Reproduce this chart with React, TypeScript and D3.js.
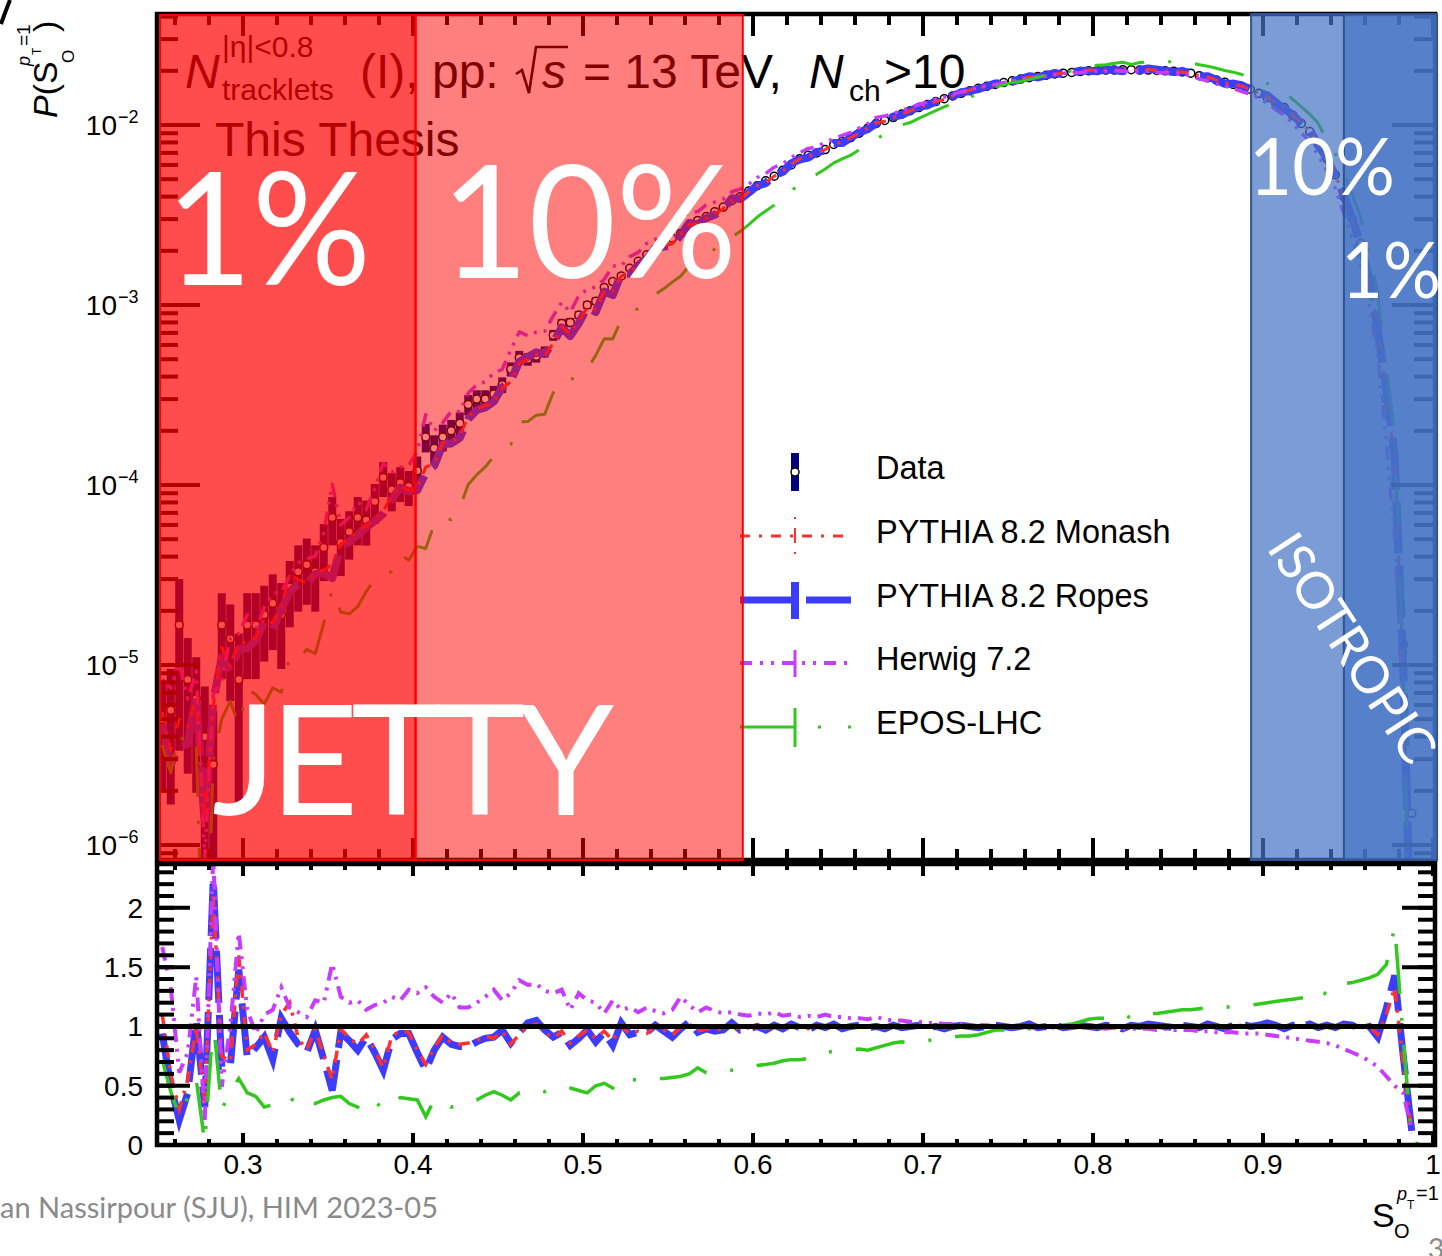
import React from 'react';
import * as d3 from 'd3';

// histogram binning of S_O^{pT=1}
const binWidth = 0.005;
const nBins = 150;
const sCenters = d3.range(nBins).map((i) => 0.25 + binWidth * (i + 0.5));

// measured distribution P(S_O)
const dataP = [
  5.0e-6, 5.6e-6, 1.67e-5, 8.3e-6, 6.5e-6, 4.0e-6, 2.8e-6, 1.67e-5, 1.4e-5, 8.3e-6,
  1.67e-5, 1.67e-5, 1.9e-5, 2.2e-5, 1.9e-5, 2.7e-5, 3.3e-5, 3.6e-5, 3.3e-5, 4.5e-5,
  6.6e-5, 4.8e-5, 5.5e-5, 6.6e-5, 6.4e-5, 8.1e-5, 1.1e-4, 9.4e-5, 1.03e-4, 9.8e-5,
  1.2e-4, 1.85e-4, 1.6e-4, 1.85e-4, 2.0e-4, 2.2e-4, 2.8e-4, 3.0e-4, 3.0e-4, 3.2e-4,
  3.6e-4, 4.4e-4, 5.1e-4, 5.0e-4, 5.2e-4, 5.5e-4, 6.8e-4, 7.9e-4, 8.0e-4, 8.8e-4,
  1.0e-3, 1.05e-3, 1.25e-3, 1.35e-3, 1.45e-3, 1.6e-3, 1.75e-3, 1.9e-3, 2.05e-3, 2.2e-3,
  2.35e-3, 2.5e-3, 2.75e-3, 2.95e-3, 3.1e-3, 3.3e-3, 3.5e-3, 3.8e-3, 4.0e-3, 4.3e-3,
  4.6e-3, 4.9e-3, 5.2e-3, 5.6e-3, 6.0e-3, 6.5e-3, 6.8e-3, 7.0e-3, 7.3e-3, 7.8e-3,
  8.1e-3, 8.5e-3, 9.0e-3, 9.6e-3, 1.02e-2, 1.06e-2, 1.1e-2, 1.15e-2, 1.2e-2, 1.25e-2,
  1.3e-2, 1.35e-2, 1.4e-2, 1.45e-2, 1.5e-2, 1.55e-2, 1.6e-2, 1.64e-2, 1.68e-2, 1.72e-2,
  1.76e-2, 1.8e-2, 1.83e-2, 1.86e-2, 1.89e-2, 1.92e-2, 1.94e-2, 1.96e-2, 1.98e-2, 2.0e-2,
  2.01e-2, 2.02e-2, 2.02e-2, 2.03e-2, 2.03e-2, 2.02e-2, 2.02e-2, 2.01e-2, 2.0e-2, 1.99e-2,
  1.97e-2, 1.94e-2, 1.88e-2, 1.83e-2, 1.78e-2, 1.73e-2, 1.68e-2, 1.63e-2, 1.58e-2, 1.5e-2,
  1.42e-2, 1.32e-2, 1.25e-2, 1.13e-2, 1.02e-2, 9.2e-3, 7.8e-3, 6.5e-3, 5.3e-3, 4.0e-3,
  3.0e-3, 2.2e-3, 1.4e-3, 8.0e-4, 3.0e-4, 1.0e-4, 1.3e-5, 1.5e-6, 0, 0,
];

// relative statistical uncertainty of the data (bins beyond are negligible)
const dataRelErr = [
  0.6, 0.7, 0.8, 0.7, 0.7, 0.9, 1.0, 0.5, 0.55, 0.8,
  0.5, 0.5, 0.45, 0.45, 0.5, 0.4, 0.4, 0.4, 0.4, 0.35,
  0.3, 0.35, 0.3, 0.3, 0.28, 0.25, 0.22, 0.24, 0.22, 0.22,
  0.2, 0.18, 0.18, 0.17, 0.15, 0.15, 0.13, 0.12, 0.12, 0.11,
  0.1, 0.09, 0.09, 0.08, 0.08, 0.07, 0.07, 0.06, 0.06, 0.05,
  0.05, 0.05, 0.04, 0.04, 0.04, 0.03, 0.03, 0.03, 0.03, 0.02,
];

// model / data ratios
const ratioRopes = [
  0.94, 0.5, 0.21, 0.44, 1.05, 0.32, 2.24, 0.66, 0.66, 1.48,
  0.74, 0.82, 0.91, 0.72, 1.07, 0.95, 0.85, 0.78, 0.97, 0.72,
  0.46, 0.95, 0.88, 0.8, 0.91, 0.78, 0.63, 0.89, 0.94, 0.94,
  0.78, 0.63, 0.8, 0.91, 0.85, 0.83, 0.83, 0.87, 0.9, 0.91,
  0.97, 0.86, 0.95, 1.03, 1.05, 0.97, 0.91, 0.95, 0.84, 0.9,
  0.97, 0.87, 0.95, 0.84, 1.03, 0.93, 0.95, 0.95, 1.01, 0.96,
  0.91, 0.98, 1.04, 0.95, 0.98, 0.96, 0.97, 1.03, 0.97, 0.98,
  1.0, 0.97, 1.01, 0.98, 1.02, 0.99, 0.97, 1.01, 0.99, 1.02,
  0.98, 1.0, 1.01, 0.99, 1.0, 0.98, 1.01, 0.99, 1.0, 1.01,
  0.99, 1.0, 0.98, 1.0, 1.01, 1.0, 0.99, 1.0, 1.01, 1.0,
  0.99, 1.0, 1.02, 0.99, 1.0, 1.01, 0.99, 1.0, 1.01, 1.0,
  0.99, 1.01, 1.0, 0.98, 1.01, 1.0, 1.02, 1.01, 1.0, 0.99,
  1.01, 1.0, 0.99, 1.02, 1.0, 0.98, 1.01, 1.02, 1.0, 1.01,
  1.03, 1.01, 0.98, 1.01, 1.0, 1.02, 0.99, 1.01, 0.99, 1.02,
  1.01, 0.98, 1.0, 0.91, 1.15, 1.43, 0.75, 0.12, null, null,
];

const ratioMonash = [
  1.1, 0.6, 0.3, 0.55, 1.0, 0.35, 2.1, 0.75, 0.7, 1.6,
  0.8, 0.85, 0.95, 0.78, 1.1, 1.2, 0.9, 0.8, 0.98, 0.75,
  0.55, 0.98, 0.9, 0.85, 0.93, 0.8, 0.65, 0.92, 0.96, 0.95,
  0.8, 0.68, 0.82, 0.93, 0.86, 0.85, 0.86, 0.88, 0.92, 0.9,
  0.96, 0.85, 0.93, 1.0, 1.02, 0.95, 0.9, 0.96, 0.86, 0.92,
  0.97, 0.9, 0.96, 0.88, 1.0, 0.94, 0.96, 0.94, 1.0, 0.97,
  0.93, 0.99, 1.02, 0.96, 0.98, 0.97, 0.98, 1.01, 0.97, 0.99,
  1.0, 0.98, 1.0, 0.99, 1.01, 1.0, 0.98, 1.0, 1.0, 1.01,
  0.99, 1.0, 1.0, 1.0, 1.01, 0.99, 1.0, 1.0, 1.0, 1.0,
  1.0, 1.0, 0.99, 1.0, 1.0, 1.01, 1.0, 1.0, 1.0, 1.0,
  1.0, 1.0, 1.01, 1.0, 1.0, 1.0, 1.0, 1.0, 1.0, 1.01,
  1.0, 1.0, 1.0, 0.99, 1.0, 1.0, 1.01, 1.0, 1.0, 1.0,
  1.0, 1.0, 1.0, 1.01, 1.0, 0.99, 1.0, 1.01, 1.0, 1.0,
  1.01, 1.0, 0.99, 1.0, 1.0, 1.01, 1.0, 1.0, 1.0, 1.01,
  1.0, 0.99, 1.0, 0.93, 1.1, 1.33, 0.69, 0.1, null, null,
];

const ratioHerwig = [
  1.67, 1.33, 0.61, 0.78, 1.42, 0.21, 2.45, 0.49, 1.0, 1.79,
  1.14, 0.94, 1.1, 1.14, 1.33, 1.16, 1.12, 1.08, 1.22, 1.2,
  1.53, 1.25, 1.2, 1.22, 1.14, 1.18, 1.2, 1.25, 1.22, 1.31,
  1.28, 1.33, 1.25, 1.2, 1.28, 1.16, 1.16, 1.2, 1.25, 1.31,
  1.22, 1.28, 1.39, 1.35, 1.36, 1.3, 1.28, 1.31, 1.14, 1.28,
  1.22, 1.2, 1.11, 1.22, 1.14, 1.16, 1.12, 1.16, 1.13, 1.11,
  1.14, 1.25, 1.18, 1.12, 1.16, 1.13, 1.11, 1.12, 1.1, 1.09,
  1.11, 1.1, 1.12, 1.09, 1.1, 1.08, 1.09, 1.08, 1.1, 1.08,
  1.08, 1.07, 1.07, 1.06, 1.08, 1.06, 1.05, 1.05, 1.04, 1.04,
  1.03, 1.03, 1.02, 1.02, 1.02, 1.01, 1.01, 1.01, 1.0, 1.0,
  0.99, 1.0, 0.99, 1.0, 0.99, 0.99, 1.0, 0.99, 0.99, 0.99,
  0.99, 0.98, 0.99, 0.98, 0.98, 0.98, 0.98, 0.97, 0.98, 0.97,
  0.97, 0.97, 0.96, 0.96, 0.95, 0.95, 0.95, 0.94, 0.94, 0.94,
  0.93, 0.92, 0.91, 0.9, 0.89, 0.88, 0.87, 0.86, 0.84, 0.81,
  0.78, 0.75, 0.71, 0.66, 0.58, 0.5, 0.44, 0.12, null, null,
];

const ratioEpos = [
  0.72, 0.45, 0.25, 0.4, 0.55, 0.02, 1.05, 0.3, 0.45, 0.56,
  0.44, 0.41, 0.32, 0.34, 0.37, 0.41, 0.32, 0.34, 0.35, 0.38,
  0.4, 0.41, 0.35, 0.32, 0.4, 0.37, 0.3, 0.35, 0.4, 0.39,
  0.38, 0.24, 0.38, 0.36, 0.32, 0.34, 0.36, 0.38, 0.42, 0.45,
  0.42, 0.38, 0.44, 0.45, 0.47, 0.45, 0.48, 0.49, 0.48, 0.46,
  0.44, 0.5, 0.52, 0.48, 0.57, 0.55, 0.55, 0.55, 0.56, 0.56,
  0.57, 0.58, 0.6, 0.65, 0.61, 0.62, 0.62, 0.63, 0.64, 0.65,
  0.67, 0.68, 0.69, 0.71, 0.72, 0.72, 0.73, 0.76, 0.78, 0.79,
  0.8, 0.8, 0.81, 0.8, 0.82, 0.84, 0.86, 0.87, 0.86, 0.87,
  0.88, 0.89, 0.9, 0.91, 0.92, 0.92, 0.93, 0.95, 0.97, 0.97,
  0.98, 0.97, 0.98, 0.99, 1.0, 1.0, 1.01, 1.02, 1.04, 1.06,
  1.07, 1.07, 1.09, 1.1, 1.07, 1.1, 1.11, 1.11, 1.12, 1.13,
  1.14, 1.14, 1.15, 1.16, 1.16, 1.16, 1.17, 1.17, 1.18, 1.19,
  1.2, 1.21, 1.22, 1.23, 1.24, 1.25, 1.31, 1.27, 1.32, 1.36,
  1.37, 1.39, 1.41, 1.44, 1.52, 1.84, 0.9, 0.03, 0, 0,
];

const legendLabels = ['Data', 'PYTHIA 8.2 Monash', 'PYTHIA 8.2 Ropes', 'Herwig 7.2', 'EPOS-LHC'];
const xTickValues = [0.3, 0.4, 0.5, 0.6, 0.7, 0.8, 0.9, 1.0];
const xTickLabels = ['0.3', '0.4', '0.5', '0.6', '0.7', '0.8', '0.9', '1'];
const ratioTickValues = [0, 0.5, 1, 1.5, 2];
const ratioTickLabels = ['0', '0.5', '1', '1.5', '2'];
const decadeExponents = [-6, -5, -4, -3, -2];

// shaded event classes (in S_O units)
const jettyBands = [
  { lo: 0.2512, hi: 0.4015, alpha: 0.7 },
  { lo: 0.4015, hi: 0.594, alpha: 0.5 },
];
const isoBands = [
  { lo: 0.893, hi: 0.9476, alpha: 0.7 },
  { lo: 0.9476, hi: 1.0024, alpha: 0.9 },
];

const FONT = '"Liberation Sans", Arial, sans-serif';
const SLIDE = 'Lato, "Open Sans", sans-serif';

const C = {
  data: '#000080',
  monash: '#ff3030',
  ropes: '#3c3cff',
  herwig: '#c83cff',
  epos: '#32c81e',
};

const models = [
  { key: 'ropes', ratio: ratioRopes, color: C.ropes, w: 8, wr: 7, dash: '52,12' },
  { key: 'monash', ratio: ratioMonash, color: C.monash, w: 3, wr: 3.5, dash: '12,8,3,8' },
  { key: 'herwig', ratio: ratioHerwig, color: C.herwig, w: 3.5, wr: 4, dash: '14,7,3,7,3,7' },
  { key: 'epos', ratio: ratioEpos, color: C.epos, w: 3, wr: 3.5, dash: '50,24,3,24' },
];

export default function App() {
  const x = d3.scaleLinear().domain([0.25, 1.0]).range([158, 1433]);
  const y = d3.scaleLog().domain([10 ** -6.0833, 10 ** -1.3833]).range([860, 14]);
  const yr = d3.scaleLinear().domain([0, 2.37]).range([1145, 864]);

  const upperLine = d3
    .line<[number, number | null]>()
    .defined((d) => d[1] != null && (d[1] as number) > 0)
    .x((d) => x(d[0]))
    .y((d) => y(d[1] as number));
  const ratioLine = d3
    .line<[number, number | null]>()
    .defined((d) => d[1] != null)
    .x((d) => x(d[0]))
    .y((d) => yr(d[1] as number));

  const xMinor = d3.range(13, 51).map((k) => k * 0.02);
  const logMinor: number[] = [];
  for (let e = -7; e <= -2; e++) {
    for (let m = 1; m <= 9; m++) {
      const v = m * 10 ** e;
      if (v > 10 ** -6.0833 && v < 10 ** -1.3833) logMinor.push(v);
    }
  }
  const ratioMinor = d3.range(0, 24).map((k) => k * 0.1);

  const tk = { stroke: '#000', strokeWidth: 4 };

  return (
    <svg
      width={1442}
      height={1256}
      style={{ position: 'absolute', left: 0, top: 0, display: 'block', background: '#fff' }}
      fontFamily={FONT}
    >
      <defs>
        <clipPath id="clipUp">
          <rect x={158} y={14} width={1277} height={846} />
        </clipPath>
        <clipPath id="clipLo">
          <rect x={158} y={864} width={1275} height={281} />
        </clipPath>
      </defs>

      {/* ---------- upper panel: data underneath, models on top ---------- */}
      <g clipPath="url(#clipUp)">
        {dataP.map((p, i) =>
          p > 0 && dataRelErr[i] ? (
            <rect
              key={'e' + i}
              x={x(sCenters[i]) - 4}
              width={8}
              y={y(p * (1 + dataRelErr[i]))}
              height={y(Math.max(p * (1 - dataRelErr[i]), 1e-8)) - y(p * (1 + dataRelErr[i]))}
              fill={C.data}
            />
          ) : null
        )}
        {dataP.map((p, i) =>
          p > 0 ? (
            <circle key={'c' + i} cx={x(sCenters[i])} cy={y(p)} r={4} fill="#fff" stroke="#000" strokeWidth={1.5} />
          ) : null
        )}
        {models.map((m) => (
          <path
            key={m.key}
            d={upperLine(sCenters.map((s, i) => [s, m.ratio[i] == null ? null : (m.ratio[i] as number) * dataP[i]]))!}
            fill="none"
            stroke={m.color}
            strokeWidth={m.w}
            strokeDasharray={m.dash}
            strokeLinejoin="round"
          />
        ))}
      </g>

      {/* upper frame & ticks */}
      <rect x={157} y={14} width={1278} height={846} fill="none" stroke="#000" strokeWidth={4.5} />
      {xTickValues.map((v) => (
        <g key={'ux' + v}>
          <line x1={x(v)} x2={x(v)} y1={14} y2={36} {...tk} />
          <line x1={x(v)} x2={x(v)} y1={860} y2={838} {...tk} />
        </g>
      ))}
      {xMinor.map((v, k) => (
        <g key={'uxm' + k}>
          <line x1={x(v)} x2={x(v)} y1={14} y2={25} {...tk} />
          <line x1={x(v)} x2={x(v)} y1={860} y2={849} {...tk} />
        </g>
      ))}
      {decadeExponents.map((e) => (
        <g key={'dy' + e}>
          <line x1={157} x2={200} y1={y(10 ** e)} y2={y(10 ** e)} {...tk} />
          <line x1={1435} x2={1392} y1={y(10 ** e)} y2={y(10 ** e)} {...tk} />
          <text x={117} y={y(10 ** e) + 10} fontSize={28} textAnchor="end">
            10
          </text>
          <text x={118} y={y(10 ** e) - 2} fontSize={18}>
            {'\u2212' + Math.abs(e)}
          </text>
        </g>
      ))}
      {logMinor.map((v, k) => (
        <g key={'lm' + k}>
          <line x1={157} x2={178} y1={y(v)} y2={y(v)} {...tk} />
          <line x1={1435} x2={1414} y1={y(v)} y2={y(v)} {...tk} />
        </g>
      ))}

      {/* header text */}
      <g fill="#000">
        <text x={185} y={88} fontSize={48} fontStyle="italic">
          N
        </text>
        <text x={222} y={57} fontSize={30}>
          |η|&lt;0.8
        </text>
        <text x={222} y={100} fontSize={30}>
          tracklets
        </text>
        <text x={360} y={88} fontSize={48}>
          (I), pp:
        </text>
        <path d="M516,74 L522,70 L529,93 L536,47 L568,47" fill="none" stroke="#000" strokeWidth={2.6} />
        <text x={542} y={88} fontSize={48} fontStyle="italic">
          s
        </text>
        <text x={583} y={88} fontSize={48}>
          = 13 TeV,
        </text>
        <text x={809} y={88} fontSize={48} fontStyle="italic">
          N
        </text>
        <text x={849} y={101} fontSize={30}>
          ch
        </text>
        <text x={884} y={88} fontSize={48}>
          &gt;10
        </text>
        <text x={215} y={156} fontSize={48}>
          This Thesis
        </text>
      </g>

      {/* legend */}
      <g>
        <rect x={791} y={453} width={8} height={38} fill={C.data} />
        <circle cx={795} cy={472} r={4} fill="#fff" stroke="#000" strokeWidth={1.5} />
        <line x1={740} x2={846} y1={536} y2={536} stroke={C.monash} strokeWidth={3} strokeDasharray="10,9,3,9" />
        <line x1={795} x2={795} y1={517} y2={555} stroke={C.monash} strokeWidth={2} strokeDasharray="2,9,15,9,2" />
        <line x1={740} x2={851} y1={600} y2={600} stroke={C.ropes} strokeWidth={7} strokeDasharray="52,14" />
        <line x1={795} x2={795} y1={582} y2={619} stroke={C.ropes} strokeWidth={8} />
        <line x1={740} x2={849} y1={663} y2={663} stroke={C.herwig} strokeWidth={4} strokeDasharray="12,8,3,8,3,8" />
        <line x1={795} x2={795} y1={650} y2={677} stroke={C.herwig} strokeWidth={3} />
        <line x1={740} x2={795} y1={727} y2={727} stroke={C.epos} strokeWidth={3} />
        <line x1={818} x2={852} y1={727} y2={727} stroke={C.epos} strokeWidth={3} strokeDasharray="3,27" />
        <line x1={795} x2={795} y1={708} y2={747} stroke={C.epos} strokeWidth={3} />
        {legendLabels.map((t, k) => (
          <text key={t} x={876} y={479 + k * 63.8} fontSize={32.5}>
            {t}
          </text>
        ))}
      </g>

      {/* ---------- shaded event classes ---------- */}
      {jettyBands.map((b, k) => (
        <rect
          key={'j' + k}
          x={x(b.lo)}
          y={15}
          width={x(b.hi) - x(b.lo)}
          height={845}
          fill="#ff0000"
          fillOpacity={b.alpha}
          stroke="#ff0000"
          strokeWidth={2}
        />
      ))}
      {isoBands.map((b, k) => (
        <rect
          key={'iso' + k}
          x={x(b.lo)}
          y={14}
          width={x(b.hi) - x(b.lo)}
          height={846}
          fill="#4472c4"
          fillOpacity={b.alpha}
          stroke="#2f5597"
          strokeWidth={2}
        />
      ))}

      <g fill="#fff" fontFamily={SLIDE}>
        <text x={166} y={285} fontSize={158} textLength={205} lengthAdjust="spacingAndGlyphs">
          1%
        </text>
        <text x={441} y={278} fontSize={158} textLength={296} lengthAdjust="spacingAndGlyphs">
          10%
        </text>
        <text x={212} y={815} fontSize={154} textLength={402} lengthAdjust="spacing">
          JETTY
        </text>
        <text x={1249} y={195} fontSize={80} textLength={146} lengthAdjust="spacingAndGlyphs">
          10%
        </text>
        <text x={1341} y={298} fontSize={78} textLength={100} lengthAdjust="spacingAndGlyphs">
          1%
        </text>
        <text
          transform="translate(1266,548) rotate(57)"
          fontSize={51}
          textLength={262}
          lengthAdjust="spacingAndGlyphs"
        >
          ISOTROPIC
        </text>
      </g>

      {/* ---------- ratio panel ---------- */}
      <g clipPath="url(#clipLo)">
        {models.map((m) => (
          <path
            key={'r' + m.key}
            d={ratioLine(sCenters.map((s, i) => [s, m.ratio[i] as number | null]))!}
            fill="none"
            stroke={m.color}
            strokeWidth={m.wr}
            strokeDasharray={m.dash}
            strokeLinejoin="miter"
          />
        ))}
      </g>
      <line x1={158} x2={1433} y1={yr(1)} y2={yr(1)} stroke="#000" strokeWidth={5} />
      <rect x={157} y={864} width={1278} height={281} fill="none" stroke="#000" strokeWidth={4.5} />
      {xTickValues.map((v, k) => (
        <g key={'lx' + v}>
          <line x1={x(v)} x2={x(v)} y1={864} y2={876} {...tk} />
          <line x1={x(v)} x2={x(v)} y1={1145} y2={1133} {...tk} />
          <text x={x(v)} y={1174} fontSize={28} textAnchor="middle">
            {xTickLabels[k]}
          </text>
        </g>
      ))}
      {xMinor.map((v, k) => (
        <g key={'lxm' + k}>
          <line x1={x(v)} x2={x(v)} y1={864} y2={870} {...tk} />
          <line x1={x(v)} x2={x(v)} y1={1145} y2={1139} {...tk} />
        </g>
      ))}
      {ratioTickValues.map((v, k) => (
        <g key={'ry' + v}>
          <line x1={157} x2={190} y1={yr(v)} y2={yr(v)} {...tk} />
          <line x1={1435} x2={1402} y1={yr(v)} y2={yr(v)} {...tk} />
          <text x={143} y={yr(v) + 10} fontSize={28} textAnchor="end">
            {ratioTickLabels[k]}
          </text>
        </g>
      ))}
      {ratioMinor.map((v, k) => (
        <g key={'rym' + k}>
          <line x1={157} x2={174} y1={yr(v)} y2={yr(v)} {...tk} />
          <line x1={1435} x2={1418} y1={yr(v)} y2={yr(v)} {...tk} />
        </g>
      ))}

      {/* axis titles */}
      <g transform="translate(57,118) rotate(-90)">
        <text x={0} y={0} fontSize={34}>
          <tspan fontStyle="italic">P</tspan>(S
        </text>
        <text x={55} y={17} fontSize={17}>
          O
        </text>
        <text x={52} y={-27} fontSize={18} fontStyle="italic">
          p
        </text>
        <text x={63} y={-16} fontSize={12}>
          T
        </text>
        <text x={72} y={-27} fontSize={19}>
          =1
        </text>
        <text x={86} y={0} fontSize={34}>
          )
        </text>
      </g>
      <g>
        <text x={1372} y={1227} fontSize={34}>
          S
        </text>
        <text x={1394} y={1238} fontSize={20}>
          O
        </text>
        <text x={1397} y={1200} fontSize={18} fontStyle="italic">
          p
        </text>
        <text x={1407} y={1209} fontSize={12}>
          T
        </text>
        <text x={1416} y={1200} fontSize={20}>
          =1
        </text>
      </g>

      {/* slide furniture */}
      <path d="M1,24 Q6,10 10,0" fill="none" stroke="#000" strokeWidth={4} />
      <text x={0} y={1218} fontSize={29} fill="#8a8a8a" fontFamily={SLIDE} textLength={438} lengthAdjust="spacingAndGlyphs">
        an Nassirpour (SJU), HIM 2023-05
      </text>
      <text x={1428} y={1259} fontSize={28} fill="#8a8a8a" fontFamily={SLIDE}>
        3
      </text>
    </svg>
  );
}
